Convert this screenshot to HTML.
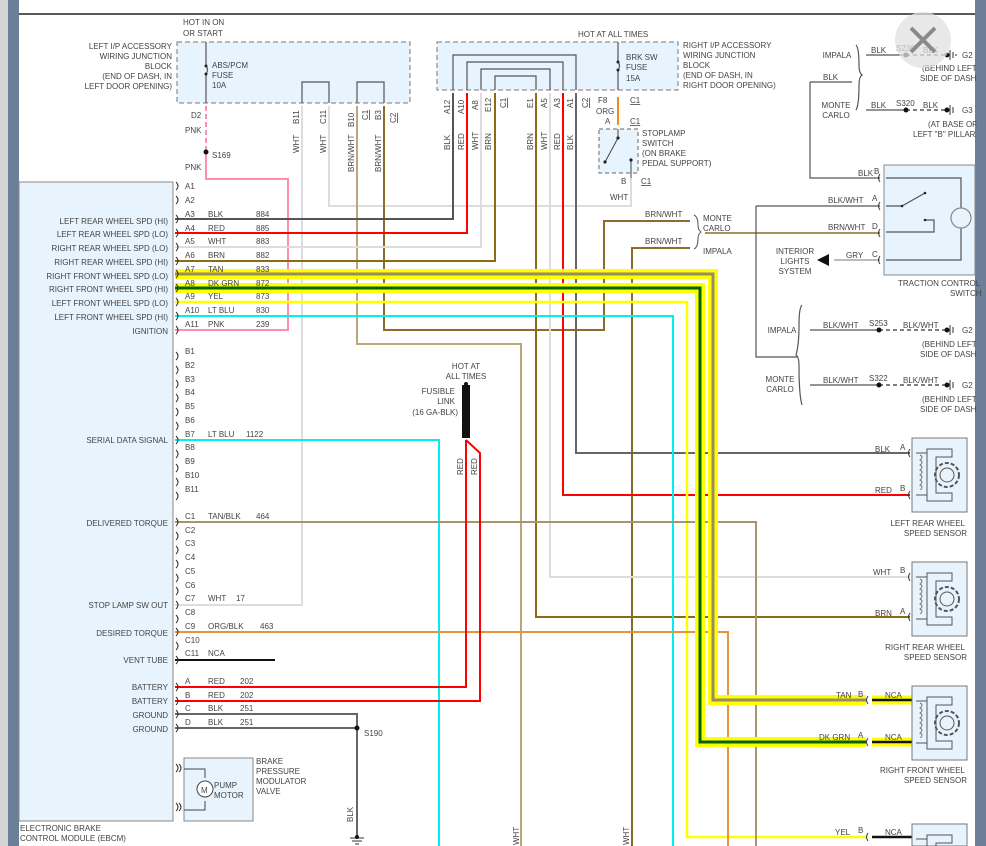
<!DOCTYPE html>
<html><head><meta charset="utf-8"><style>
html,body{margin:0;padding:0;background:#fff;width:986px;height:846px;overflow:hidden;}
svg{display:block;}
text{font-family:"Liberation Sans",sans-serif;font-size:8px;fill:#444;}
.r{text-anchor:end}.m{text-anchor:middle}
</style></head><body>
<svg width="986" height="846" viewBox="0 0 986 846" xmlns="http://www.w3.org/2000/svg" overflow="hidden">
<rect x="0" y="0" width="986" height="846" fill="#fff"/>
<rect x="0" y="0" width="8" height="846" fill="#d4d4d4"/>
<rect x="8" y="0" width="11" height="846" fill="#6b7f98"/>
<rect x="975" y="0" width="11" height="846" fill="#6b7f98"/>
<line x1="19" y1="14" x2="975" y2="14" stroke="#222" stroke-width="1.5"/>

<rect x="19" y="182" width="154" height="639" fill="#e8f4fd" stroke="#888" stroke-width="1"/>
<rect x="184" y="758" width="69" height="63" fill="#e8f4fd" stroke="#888"/>
<g fill="none" stroke="#444" stroke-width="1">
<path d="M184 769 H205 V778 M205 801 V810 H184"/>
<circle cx="205" cy="789" r="8" fill="#fff"/>
</g>
<text x="201" y="793" font-size="9">M</text>
<text x="214" y="788">PUMP</text><text x="214" y="798">MOTOR</text>
<text x="256" y="764">BRAKE</text><text x="256" y="774">PRESSURE</text><text x="256" y="784">MODULATOR</text><text x="256" y="794">VALVE</text>
<text x="20" y="831">ELECTRONIC BRAKE</text><text x="20" y="841">CONTROL MODULE (EBCM)</text>

<rect x="177" y="42" width="233" height="61" fill="#e8f4fd" stroke="#777" stroke-dasharray="5,3"/>
<rect x="437" y="42" width="241" height="48" fill="#e8f4fd" stroke="#777" stroke-dasharray="5,3"/>
<g fill="none" stroke="#555" stroke-width="1.2">
<path d="M206 42 V66 M206 74 V103"/>
<path d="M206 66 q3 4 0 8"/>
<path d="M302 103 V82 H329 V103 M357 103 V82 H384 V103"/>
<path d="M453 90 V55 H576 V90 M467 90 V62 H563 V90 M481 90 V69 H550 V90 M495 90 V76 H536 V90"/>
<path d="M618 42 V62 M618 70 V90"/><path d="M618 62 q3 4 0 8"/>
</g>
<g fill="#222"><circle cx="206" cy="66" r="1.5"/><circle cx="206" cy="74" r="1.5"/><circle cx="618" cy="62" r="1.5"/><circle cx="618" cy="70" r="1.5"/></g>
<text x="183" y="25">HOT IN ON</text><text x="183" y="36">OR START</text>
<text class="r" x="172" y="49">LEFT I/P ACCESSORY</text><text class="r" x="172" y="59">WIRING JUNCTION</text><text class="r" x="172" y="69">BLOCK</text><text class="r" x="172" y="79">(END OF DASH, IN</text><text class="r" x="172" y="89">LEFT DOOR OPENING)</text>
<text x="212" y="68">ABS/PCM</text><text x="212" y="78">FUSE</text><text x="212" y="88">10A</text>
<text x="578" y="37">HOT AT ALL TIMES</text>
<text x="683" y="48">RIGHT I/P ACCESSORY</text><text x="683" y="58">WIRING JUNCTION</text><text x="683" y="68">BLOCK</text><text x="683" y="78">(END OF DASH, IN</text><text x="683" y="88">RIGHT DOOR OPENING)</text>
<text x="626" y="60">BRK SW</text><text x="626" y="70">FUSE</text><text x="626" y="81">15A</text>

<rect x="599" y="129" width="39" height="44" fill="#e8f4fd" stroke="#666" stroke-dasharray="4,3"/>
<path d="M618 97 V125" stroke="#f08c1c" stroke-width="2"/>
<path d="M618 129 V138 L605 162 M631 160 V178" stroke="#444" fill="none"/>
<circle cx="618" cy="138" r="1.6" fill="#222"/><circle cx="605" cy="162" r="1.6" fill="#222"/><circle cx="631" cy="160" r="1.6" fill="#222"/>
<text x="598" y="103">F8</text><text x="596" y="114">ORG</text><text x="630" y="103" text-decoration="underline">C1</text>
<text x="605" y="124">A</text><text x="630" y="124" text-decoration="underline">C1</text>
<text x="642" y="136">STOPLAMP</text><text x="642" y="146">SWITCH</text><text x="642" y="156">(ON BRAKE</text><text x="642" y="166">PEDAL SUPPORT)</text>
<text x="621" y="184">B</text><text x="641" y="184" text-decoration="underline">C1</text><text x="610" y="200">WHT</text>

<g fill="none" stroke-width="2">
<path d="M206 106 V152" stroke="#ff8fa8" stroke-dasharray="5,3"/>
<path d="M206 152 V179 H288 V330 H175" stroke="#ff8fa8"/>
<path d="M302 106 V605 H175" stroke="#ddd"/>
<path d="M329 106 V206 H631 V178" stroke="#ddd"/>
<path d="M357 106 V344 H521 V846" stroke="#bba77a"/>
<path d="M384 106 V330 H604 V221 H690" stroke="#8a6d2a"/>
<path d="M690 248 H632 V846" stroke="#8a6d2a"/>
<path d="M453 93 V219 H175" stroke="#555"/>
<path d="M467 93 V233 H175" stroke="#f00"/>
<path d="M481 93 V247 H175" stroke="#ddd"/>
<path d="M495 93 V261 H175" stroke="#8b6b14"/>
<path d="M536 93 V617 H910" stroke="#8b6b14"/>
<path d="M550 93 V577 H910" stroke="#ddd"/>
<path d="M563 93 V495 H910" stroke="#f00"/>
<path d="M576 93 V453 H910" stroke="#666"/>
<path d="M175 316 H673 V846" stroke="#00f0f0"/>
<path d="M175 440 H439 V846" stroke="#00f0f0"/>
<path d="M175 302 H687 V837 H866" stroke="#ffff00" stroke-width="2.5"/>
<path d="M175 522 H756 V846" stroke="#a89470"/>
<path d="M175 632 H728 V846" stroke="#e8923a"/>
<path d="M175 660 H275" stroke="#111"/>
<path d="M466 440 V687 H175" stroke="#f00"/>
<path d="M466 440 L480 453 V701 H175" stroke="#f00"/>
<path d="M175 714 H357 V838 M175 728 H357" stroke="#666"/>
</g>
<g fill="none">
<path d="M175 274 H713 V700 H866" stroke="#ffff00" stroke-width="10"/>
<path d="M175 288 H700 V742 H866" stroke="#ffff00" stroke-width="10"/>
<path d="M175 274 H713 V700 H866" stroke="#9a8a6a" stroke-width="3"/>
<path d="M175 288 H700 V742 H866" stroke="#006400" stroke-width="3"/>
<path d="M872 700 H912 M872 742 H912" stroke="#ffff00" stroke-width="9"/>
<path d="M872 700 H912 M872 742 H912 M872 837 H912" stroke="#111" stroke-width="2.5"/>
</g>
<circle cx="206" cy="152" r="2.5" fill="#111"/>
<circle cx="357" cy="728" r="2.5" fill="#111"/>
<rect x="462" y="385" width="8" height="53" fill="#111"/>
<circle cx="466" cy="384" r="2" fill="#111"/>
<path d="M350 838 H364 M352 841 H362 M355 844 H359" stroke="#333"/>
<circle cx="357" cy="837" r="2" fill="#111"/>

<g fill="none" stroke="#333" stroke-width="1">
<path d="M176 182 q4 4 0 8 M176 196 q4 4 0 8 M176 215 q4 4 0 8 M176 229 q4 4 0 8 M176 243 q4 4 0 8 M176 257 q4 4 0 8 M176 270 q4 4 0 8 M176 284 q4 4 0 8 M176 298 q4 4 0 8 M176 312 q4 4 0 8 M176 326 q4 4 0 8"/>
<path d="M176 352 q4 4 0 8 M176 366 q4 4 0 8 M176 380 q4 4 0 8 M176 394 q4 4 0 8 M176 408 q4 4 0 8 M176 422 q4 4 0 8 M176 436 q4 4 0 8 M176 450 q4 4 0 8 M176 464 q4 4 0 8 M176 478 q4 4 0 8 M176 492 q4 4 0 8"/>
<path d="M176 518 q4 4 0 8 M176 532 q4 4 0 8 M176 546 q4 4 0 8 M176 560 q4 4 0 8 M176 574 q4 4 0 8 M176 587 q4 4 0 8 M176 601 q4 4 0 8 M176 615 q4 4 0 8 M176 628 q4 4 0 8 M176 642 q4 4 0 8 M176 656 q4 4 0 8"/>
<path d="M176 683 q4 4 0 8 M176 697 q4 4 0 8 M176 710 q4 4 0 8 M176 724 q4 4 0 8 M176 764 q4 4 0 8 M176 803 q4 4 0 8 M179 764 q4 4 0 8 M179 803 q4 4 0 8"/>
</g>

<g>
<text x="185" y="189">A1</text><text x="185" y="203">A2</text>
<text x="185" y="217">A3</text><text x="208" y="217">BLK</text><text x="256" y="217">884</text>
<text x="185" y="231">A4</text><text x="208" y="231">RED</text><text x="256" y="231">885</text>
<text x="185" y="244">A5</text><text x="208" y="244">WHT</text><text x="256" y="244">883</text>
<text x="185" y="258">A6</text><text x="208" y="258">BRN</text><text x="256" y="258">882</text>
<text x="185" y="272">A7</text><text x="208" y="272">TAN</text><text x="256" y="272">833</text>
<text x="185" y="286">A8</text><text x="208" y="286">DK GRN</text><text x="256" y="286">872</text>
<text x="185" y="299">A9</text><text x="208" y="299">YEL</text><text x="256" y="299">873</text>
<text x="185" y="313">A10</text><text x="208" y="313">LT BLU</text><text x="256" y="313">830</text>
<text x="185" y="327">A11</text><text x="208" y="327">PNK</text><text x="256" y="327">239</text>
<text x="185" y="354">B1</text><text x="185" y="368">B2</text><text x="185" y="382">B3</text><text x="185" y="395">B4</text><text x="185" y="409">B5</text><text x="185" y="423">B6</text>
<text x="185" y="437">B7</text><text x="208" y="437">LT BLU</text><text x="246" y="437">1122</text>
<text x="185" y="450">B8</text><text x="185" y="464">B9</text><text x="185" y="478">B10</text><text x="185" y="492">B11</text>
<text x="185" y="519">C1</text><text x="208" y="519">TAN/BLK</text><text x="256" y="519">464</text>
<text x="185" y="533">C2</text><text x="185" y="546">C3</text><text x="185" y="560">C4</text><text x="185" y="574">C5</text><text x="185" y="588">C6</text>
<text x="185" y="601">C7</text><text x="208" y="601">WHT</text><text x="236" y="601">17</text>
<text x="185" y="615">C8</text>
<text x="185" y="629">C9</text><text x="208" y="629">ORG/BLK</text><text x="260" y="629">463</text>
<text x="185" y="643">C10</text>
<text x="185" y="656">C11</text><text x="208" y="656">NCA</text>
<text x="185" y="684">A</text><text x="208" y="684">RED</text><text x="240" y="684">202</text>
<text x="185" y="698">B</text><text x="208" y="698">RED</text><text x="240" y="698">202</text>
<text x="185" y="711">C</text><text x="208" y="711">BLK</text><text x="240" y="711">251</text>
<text x="185" y="725">D</text><text x="208" y="725">BLK</text><text x="240" y="725">251</text>
</g>
<g>
<text class="r" x="168" y="224">LEFT REAR WHEEL SPD (HI)</text>
<text class="r" x="168" y="237">LEFT REAR WHEEL SPD (LO)</text>
<text class="r" x="168" y="251">RIGHT REAR WHEEL SPD (LO)</text>
<text class="r" x="168" y="265">RIGHT REAR WHEEL SPD (HI)</text>
<text class="r" x="168" y="279">RIGHT FRONT WHEEL SPD (LO)</text>
<text class="r" x="168" y="292">RIGHT FRONT WHEEL SPD (HI)</text>
<text class="r" x="168" y="306">LEFT FRONT WHEEL SPD (LO)</text>
<text class="r" x="168" y="320">LEFT FRONT WHEEL SPD (HI)</text>
<text class="r" x="168" y="334">IGNITION</text>
<text class="r" x="168" y="443">SERIAL DATA SIGNAL</text>
<text class="r" x="168" y="526">DELIVERED TORQUE</text>
<text class="r" x="168" y="608">STOP LAMP SW OUT</text>
<text class="r" x="168" y="636">DESIRED TORQUE</text>
<text class="r" x="168" y="663">VENT TUBE</text>
<text class="r" x="168" y="690">BATTERY</text>
<text class="r" x="168" y="704">BATTERY</text>
<text class="r" x="168" y="718">GROUND</text>
<text class="r" x="168" y="732">GROUND</text>
</g>

<text x="191" y="118">D2</text><text x="185" y="133">PNK</text><text x="212" y="158">S169</text><text x="185" y="170">PNK</text>
<g>
<text transform="translate(299,124) rotate(-90)">B11</text>
<text transform="translate(326,124) rotate(-90)">C11</text>
<text transform="translate(354,127) rotate(-90)">B10</text>
<text transform="translate(368,120) rotate(-90)" text-decoration="underline">C1</text>
<text transform="translate(381,120) rotate(-90)">B3</text>
<text transform="translate(396,123) rotate(-90)" text-decoration="underline">C2</text>
<text transform="translate(299,153) rotate(-90)">WHT</text>
<text transform="translate(326,153) rotate(-90)">WHT</text>
<text transform="translate(354,172) rotate(-90)">BRN/WHT</text>
<text transform="translate(381,172) rotate(-90)">BRN/WHT</text>
<text transform="translate(450,114) rotate(-90)">A12</text>
<text transform="translate(464,114) rotate(-90)">A10</text>
<text transform="translate(478,110) rotate(-90)">A8</text>
<text transform="translate(491,112) rotate(-90)">E12</text>
<text transform="translate(506,108) rotate(-90)" text-decoration="underline">C1</text>
<text transform="translate(533,108) rotate(-90)">E1</text>
<text transform="translate(547,108) rotate(-90)">A5</text>
<text transform="translate(560,108) rotate(-90)">A3</text>
<text transform="translate(573,108) rotate(-90)">A1</text>
<text transform="translate(588,108) rotate(-90)" text-decoration="underline">C2</text>
<text transform="translate(450,150) rotate(-90)">BLK</text>
<text transform="translate(464,150) rotate(-90)">RED</text>
<text transform="translate(478,150) rotate(-90)">WHT</text>
<text transform="translate(491,150) rotate(-90)">BRN</text>
<text transform="translate(533,150) rotate(-90)">BRN</text>
<text transform="translate(547,150) rotate(-90)">WHT</text>
<text transform="translate(560,150) rotate(-90)">RED</text>
<text transform="translate(573,150) rotate(-90)">BLK</text>
<text transform="translate(463,475) rotate(-90)">RED</text>
<text transform="translate(477,475) rotate(-90)">RED</text>
<text transform="translate(353,822) rotate(-90)">BLK</text>
<text transform="translate(519,845) rotate(-90)">WHT</text>
<text transform="translate(629,845) rotate(-90)">WHT</text>
</g>
<text class="m" x="466" y="369">HOT AT</text><text class="m" x="466" y="379">ALL TIMES</text>
<text class="r" x="455" y="394">FUSIBLE</text><text class="r" x="455" y="404">LINK</text><text class="r" x="458" y="415">(16 GA-BLK)</text>
<text x="364" y="736">S190</text>

<text x="645" y="217">BRN/WHT</text><text x="645" y="244">BRN/WHT</text>
<path d="M694 215 q4 2 4 10 q0 5 3 7 q-3 2 -3 7 q0 8 -4 10" fill="none" stroke="#555"/>
<text x="703" y="221">MONTE</text><text x="703" y="231">CARLO</text><text x="703" y="254">IMPALA</text>
<path d="M705 233 H880" stroke="#8a6d2a" stroke-width="1.6"/>

<rect x="884" y="165" width="91" height="110" fill="#e8f4fd" stroke="#888"/>
<g fill="none" stroke="#555" stroke-width="1.2">
<path d="M810 82 H852 M810 82 V178 H880"/>
<path d="M756 206 H880 M756 206 V357 H797"/>
<path d="M834 260 H880" stroke="#bbb" stroke-width="2"/>
<path d="M886 178 H961 V260 H886 M886 206 H902 L925 193 M925 220 H934 V232 H886"/>
<circle cx="961" cy="218" r="10" stroke="#888" fill="#e8f4fd"/>
<path d="M856 45 q3 3 3 20 q0 8 3 10 q-3 2 -3 10 q0 20 -3 25" />
<path d="M802 305 q-3 3 -3 20 q0 20 -3 30 q3 2 3 10 q0 30 3 40"/>
</g>
<circle cx="902" cy="206" r="1.3" fill="#222"/><circle cx="925" cy="193" r="1.3" fill="#222"/><circle cx="925" cy="220" r="1.3" fill="#222"/>
<path d="M817 260 L829 254 V266 Z" fill="#111"/>
<g fill="none" stroke="#333"><path d="M880 174 q-3 4 0 8 M880 202 q-3 4 0 8 M880 229 q-3 4 0 8 M880 256 q-3 4 0 8"/></g>
<text x="858" y="176">BLK</text><text x="874" y="174">B</text>
<text x="828" y="203">BLK/WHT</text><text x="872" y="201">A</text>
<text x="828" y="230">BRN/WHT</text><text x="872" y="229">D</text>
<text x="846" y="258">GRY</text><text x="872" y="257">C</text>
<text class="m" x="795" y="254">INTERIOR</text><text class="m" x="795" y="264">LIGHTS</text><text class="m" x="795" y="274">SYSTEM</text>
<text x="898" y="286">TRACTION CONTROL</text><text x="950" y="296">SWITCH</text>

<g stroke="#555" fill="none" stroke-width="1.2">
<path d="M866 55 H906 M866 110 H906 M810 330 H879 M810 385 H879"/>
<path d="M906 55 H948 M906 110 H948 M879 330 H948 M879 385 H948" stroke-dasharray="4,3" stroke-width="1.5"/>
<path d="M950 50 V60 M953 52 V58 M956 54 V56 M950 105 V115 M953 107 V113 M950 325 V335 M953 327 V333 M950 380 V390 M953 382 V388"/>
</g>
<g fill="#111"><circle cx="906" cy="55" r="2.5"/><circle cx="906" cy="110" r="2.5"/><circle cx="879" cy="330" r="2.5"/><circle cx="879" cy="385" r="2.5"/><circle cx="947" cy="55" r="2.5"/><circle cx="947" cy="110" r="2.5"/><circle cx="947" cy="330" r="2.5"/><circle cx="947" cy="385" r="2.5"/></g>
<text class="m" x="837" y="58">IMPALA</text><text x="823" y="80">BLK</text>
<text x="871" y="53">BLK</text><text x="896" y="51">S236</text><text x="923" y="53">BLK</text><text x="962" y="58">G2</text>
<text x="922" y="71">(BEHIND LEFT</text><text x="920" y="81">SIDE OF DASH</text>
<text class="m" x="836" y="108">MONTE</text><text class="m" x="836" y="118">CARLO</text>
<text x="871" y="108">BLK</text><text x="896" y="106">S320</text><text x="923" y="108">BLK</text><text x="962" y="113">G3</text>
<text x="928" y="127">(AT BASE OF</text><text x="913" y="137">LEFT "B" PILLAR</text>
<text class="m" x="782" y="333">IMPALA</text><text x="823" y="328">BLK/WHT</text><text x="869" y="326">S253</text><text x="903" y="328">BLK/WHT</text><text x="962" y="333">G2</text>
<text x="922" y="347">(BEHIND LEFT</text><text x="920" y="357">SIDE OF DASH</text>
<text class="m" x="780" y="382">MONTE</text><text class="m" x="780" y="392">CARLO</text>
<text x="823" y="383">BLK/WHT</text><text x="869" y="381">S322</text><text x="903" y="383">BLK/WHT</text><text x="962" y="388">G2</text>
<text x="922" y="402">(BEHIND LEFT</text><text x="920" y="412">SIDE OF DASH</text>

<g id="s1">
<rect x="912" y="438" width="55" height="74" fill="#e8f4fd" stroke="#777"/>
<path d="M927 449 H952 V457 H936 V493 H952 V501 H927 Z" fill="none" stroke="#555"/>
<path d="M916 453 H927 M916 495 H927" stroke="#555"/>
<path d="M920 455 q4 2 0 5 q4 2 0 5 q4 2 0 5 q4 2 0 5 q4 2 0 5 q4 2 0 5 q4 2 0 5" fill="none" stroke="#777"/>
<circle cx="947" cy="475" r="12" fill="none" stroke="#555" stroke-dasharray="4,2" stroke-width="2"/>
<circle cx="947" cy="475" r="7" fill="none" stroke="#555"/>
</g>
<use href="#s1" transform="translate(0,124)"/>
<use href="#s1" transform="translate(0,248)"/>
<rect x="912" y="824" width="55" height="22" fill="#e8f4fd" stroke="#777"/>
<path d="M927 846 V835 H952 V843 H936 V846" fill="none" stroke="#555"/>
<path d="M916 839 H927" stroke="#555"/>
<g fill="none" stroke="#333"><path d="M910 449 q-3 4 0 8 M910 491 q-3 4 0 8 M910 573 q-3 4 0 8 M910 613 q-3 4 0 8 M868 696 q-3 4 0 8 M868 738 q-3 4 0 8 M868 833 q-3 4 0 8"/></g>
<text x="875" y="452">BLK</text><text x="900" y="450">A</text>
<text x="875" y="493">RED</text><text x="900" y="491">B</text>
<text class="r" x="965" y="526">LEFT REAR WHEEL</text><text class="r" x="967" y="536">SPEED SENSOR</text>
<text x="873" y="575">WHT</text><text x="900" y="573">B</text>
<text x="875" y="616">BRN</text><text x="900" y="614">A</text>
<text class="r" x="965" y="650">RIGHT REAR WHEEL</text><text class="r" x="967" y="660">SPEED SENSOR</text>
<text x="836" y="698">TAN</text><text x="858" y="697">B</text><text x="885" y="698">NCA</text>
<text x="819" y="740">DK GRN</text><text x="858" y="738">A</text><text x="885" y="740">NCA</text>
<text class="r" x="965" y="773">RIGHT FRONT WHEEL</text><text class="r" x="967" y="783">SPEED SENSOR</text>
<text x="835" y="835">YEL</text><text x="858" y="833">B</text><text x="885" y="835">NCA</text>

<circle cx="923" cy="40" r="28" fill="#e0e0e0" fill-opacity="0.75"/>
<path d="M911 28 L935 52 M935 28 L911 52" stroke="#8a8a8a" stroke-width="4"/>
</svg>
</body></html>
